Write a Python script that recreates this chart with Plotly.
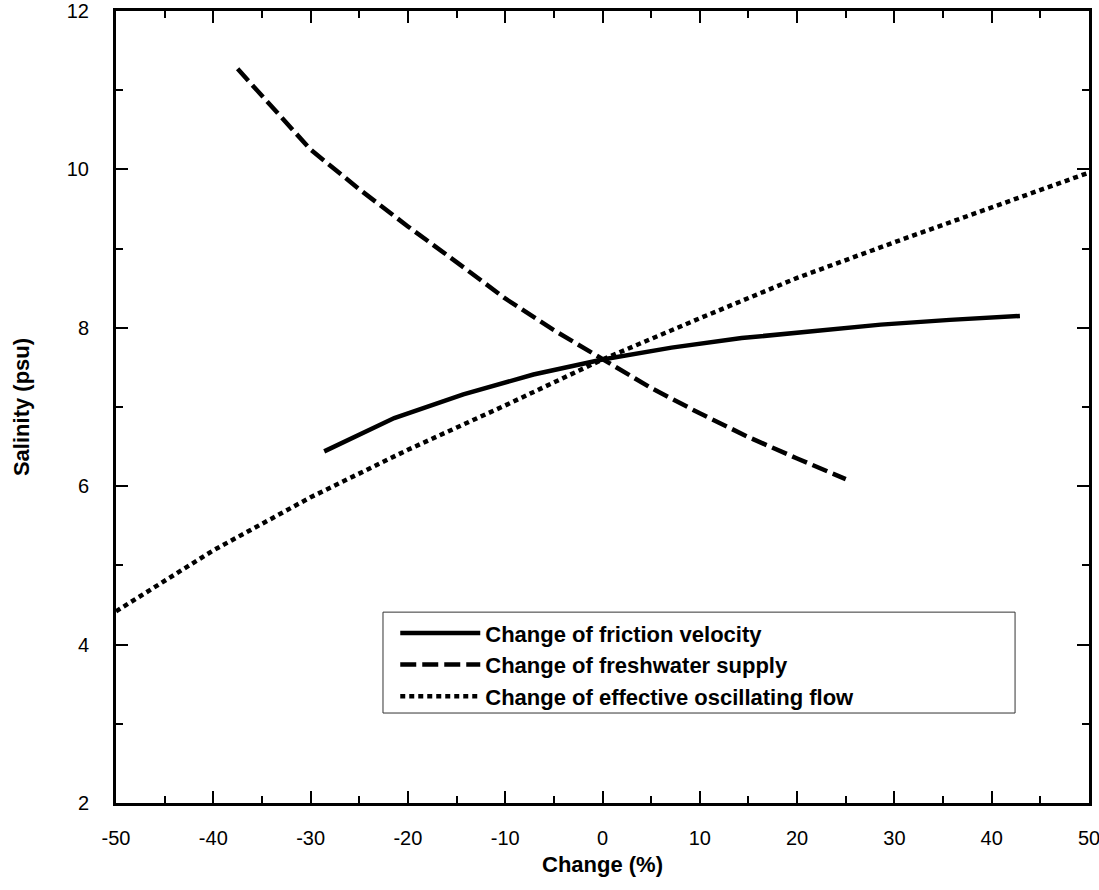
import plotly.graph_objects as go

# Data
friction_x = [-28.6, -21.4, -14.3, -7.1, 0, 7.1, 14.3, 21.4, 28.6, 35.7, 42.9]
friction_y = [6.44, 6.86, 7.16, 7.41, 7.60, 7.75, 7.87, 7.96, 8.04, 8.10, 8.15]

fresh_x = [-37.5, -30, -25, -20, -15, -10, -5, 0, 5, 10, 15, 20, 25]
fresh_y = [11.27, 10.25, 9.75, 9.28, 8.83, 8.37, 7.97, 7.60, 7.24, 6.92, 6.62, 6.35, 6.09]

osc_x = [-50, -40, -30, -20, -10, 0, 10, 20, 30, 40, 50]
osc_y = [4.42, 5.19, 5.86, 6.46, 7.02, 7.60, 8.12, 8.63, 9.08, 9.52, 9.96]

names = ["Change of friction velocity", "Change of freshwater supply",
         "Change of effective oscillating flow"]

x_tickvals = [-50, -40, -30, -20, -10, 0, 10, 20, 30, 40, 50]
x_ticktext = ["-50", "-40", "-30", "-20", "-10", "0", "10", "20", "30", "40", "50"]
y_tickvals = [2, 4, 6, 8, 10, 12]
y_ticktext = ["2", "4", "6", "8", "10", "12"]

FONT = "Liberation Sans, Arial, sans-serif"

fig = go.Figure()
fig.add_trace(go.Scatter(x=friction_x, y=friction_y, mode="lines", name=names[0],
                         line=dict(color="black", width=4.5, dash="solid")))
fig.add_trace(go.Scatter(x=fresh_x, y=fresh_y, mode="lines", name=names[1],
                         line=dict(color="black", width=4.5, dash="16px,6px")))
fig.add_trace(go.Scatter(x=osc_x, y=osc_y, mode="lines", name=names[2],
                         line=dict(color="black", width=4.5, dash="5px,4px")))

axis_common = dict(
    showgrid=False, zeroline=False, showline=True, linecolor="black", linewidth=3,
    mirror="allticks", ticks="inside", ticklen=12, tickwidth=2, tickcolor="black",
    tickfont=dict(family=FONT, size=20, color="black"), automargin=False,
    tickmode="array", ticklabeloverflow="allow",
)

fig.update_xaxes(range=[-50, 50], tickvals=x_tickvals, ticktext=x_ticktext,
                 ticklabelstandoff=15,
                 minor=dict(ticks="inside", ticklen=7, tickwidth=2, tickcolor="black",
                            tickmode="linear", tick0=-45, dtick=10),
                 title=dict(text="<b>Change (%)</b>", font=dict(family=FONT, size=22, color="black"),
                            standoff=9),
                 **axis_common)
fig.update_yaxes(range=[2, 12], tickvals=y_tickvals, ticktext=y_ticktext,
                 ticklabelstandoff=20,
                 minor=dict(ticks="inside", ticklen=7, tickwidth=2, tickcolor="black",
                            tickmode="linear", tick0=3, dtick=2),
                 title=dict(text="<b>Salinity (psu)</b>", font=dict(family=FONT, size=22, color="black"),
                            standoff=32),
                 **axis_common)

# legend frame (wider than the legend's own box, as in the reference)
fig.add_shape(type="rect", xref="paper", yref="paper",
              x0=0.2744, x1=0.924, y0=0.1136, y1=0.241,
              line=dict(color="#333333", width=1), fillcolor="white", layer="below")

fig.update_layout(
    width=1099, height=890,
    margin=dict(l=116, r=10, t=11, b=87),
    plot_bgcolor="white", paper_bgcolor="white",
    font=dict(family=FONT, color="black"),
    legend=dict(x=0.287, y=0.241, xanchor="left", yanchor="top",
                bgcolor="rgba(0,0,0,0)", borderwidth=0,
                font=dict(family=FONT, size=22, color="black", weight="bold"),
                itemwidth=80),
    showlegend=True,
)

fig.write_html("out.html")
